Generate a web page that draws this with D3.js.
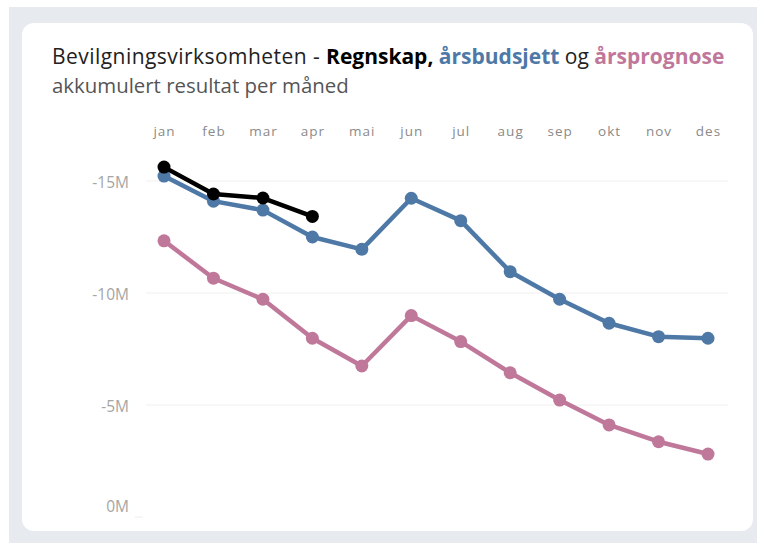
<!DOCTYPE html>
<html lang="no">
<head>
<meta charset="utf-8">
<title>Bevilgningsvirksomheten</title>
<script src="https://d3js.org/d3.v7.min.js"></script>
<style>
  body { margin: 0; background: #fff; }
  svg { display: block; }
</style>
</head>
<body>
<script>
const W = 757, H = 543;

const months = ["jan", "feb", "mar", "apr", "mai", "jun", "jul", "aug", "sep", "okt", "nov", "des"];
const regnskap = [-15.62, -14.42, -14.24, -13.42];
const budsjett = [-15.22, -14.1, -13.7, -12.5, -11.95, -14.23, -13.23, -10.95, -9.72, -8.65, -8.05, -7.98];
const prognose = [-12.33, -10.66, -9.72, -7.98, -6.74, -8.99, -7.83, -6.44, -5.22, -4.11, -3.36, -2.81];
const yTicks = [0, -5, -10, -15];

const blue = "#4e79a7", pink = "#c0789a";

const svg = d3.select("body").append("svg")
    .attr("width", W)
    .attr("height", H);

// background + card
svg.append("rect").attr("x", 9).attr("y", 7).attr("width", W - 9).attr("height", H - 7).attr("fill", "#e7eaef");
svg.append("rect").attr("x", 22).attr("y", 23).attr("width", 731).attr("height", 508).attr("rx", 12).attr("fill", "#fff");

// title
const font = "'Open Sans', sans-serif";
const t1 = svg.append("text").attr("x", 52).attr("y", 64)
    .attr("font-family", font).attr("font-size", 21).attr("fill", "#222");
t1.append("tspan").attr("letter-spacing", 0.45).text("Bevilgningsvirksomheten - ");
t1.append("tspan").attr("font-weight", "bold").attr("fill", "#000").text("Regnskap,");
t1.append("tspan").text(" ");
t1.append("tspan").attr("font-weight", "bold").attr("fill", blue).text("årsbudsjett");
t1.append("tspan").text(" og ");
t1.append("tspan").attr("font-weight", "bold").attr("fill", pink).text("årsprognose");

svg.append("text").attr("x", 52).attr("y", 93)
    .attr("font-family", font).attr("font-size", 20.4).attr("fill", "#555")
    .text("akkumulert resultat per måned");

const x = d3.scalePoint().domain(months).range([164, 708]);
const y = d3.scaleLinear().domain([0, -15]).range([517, 181]);

// gridlines
svg.append("g").selectAll("line")
    .data(yTicks.filter(d => d !== 0))
    .join("line")
    .attr("x1", 146).attr("x2", 728)
    .attr("y1", d => y(d)).attr("y2", d => y(d))
    .attr("stroke", "#f0f0f0").attr("stroke-width", 1);

// y axis
const yAxis = svg.append("g")
    .attr("transform", "translate(131,0)")
    .call(d3.axisLeft(y).tickValues(yTicks).tickSize(0).tickPadding(2).tickFormat(d => d + "M"));
yAxis.select(".domain").remove();
yAxis.selectAll("text")
    .attr("font-family", font).attr("font-size", 15.5).attr("fill", "#a5a5a5")
    .attr("dy", d => d === 0 ? "-0.35em" : "0.4em");
yAxis.append("line").attr("x1", 4).attr("x2", 12).attr("y1", y(0)).attr("y2", y(0)).attr("stroke", "#eee");

// x axis (top)
const xAxis = svg.append("g")
    .attr("transform", "translate(0,136)")
    .call(d3.axisTop(x).tickSize(0).tickPadding(0));
xAxis.select(".domain").remove();
xAxis.selectAll("text")
    .attr("dy", 0)
    .attr("font-family", font).attr("font-size", 13.5).attr("letter-spacing", 1)
    .attr("fill", "#8a8a8a");

// lines
const line = d3.line().x((d, i) => x(months[i])).y(d => y(d));
const series = [
    { values: prognose, color: pink },
    { values: budsjett, color: blue },
    { values: regnskap, color: "#000" }
];

series.forEach(s => {
    const g = svg.append("g");
    g.append("path")
        .attr("d", line(s.values))
        .attr("fill", "none")
        .attr("stroke", s.color)
        .attr("stroke-width", 4.5)
        .attr("stroke-linejoin", "round");
    g.selectAll("circle")
        .data(s.values)
        .join("circle")
        .attr("cx", (d, i) => x(months[i]))
        .attr("cy", d => y(d))
        .attr("r", 6.5)
        .attr("fill", s.color);
});
</script>
</body>
</html>
